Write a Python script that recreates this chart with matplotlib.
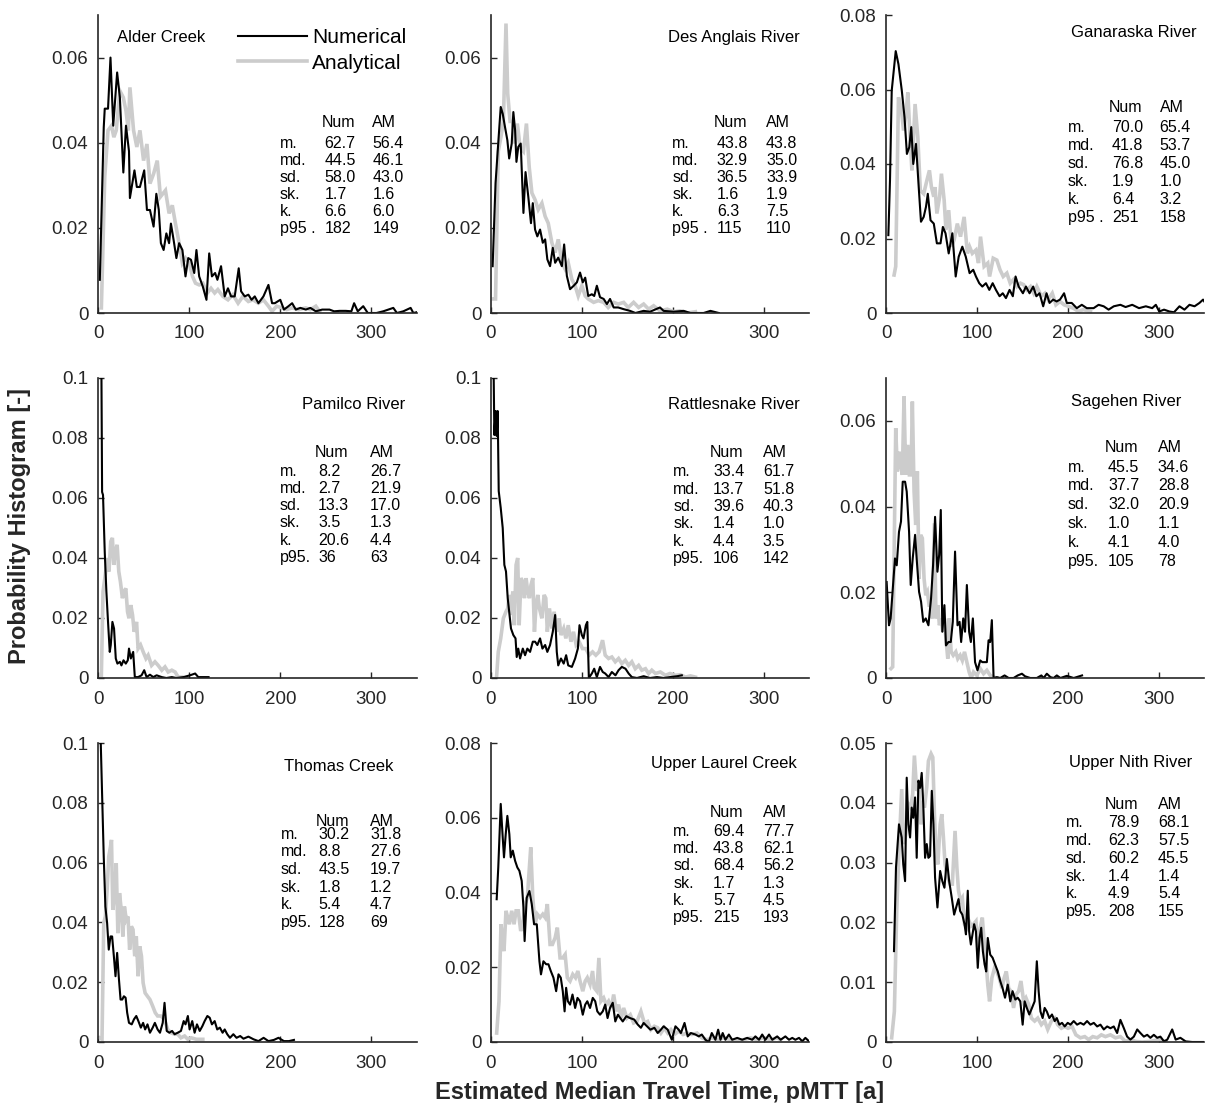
import matplotlib
matplotlib.use("Agg")
import matplotlib.pyplot as plt
from matplotlib.ticker import FuncFormatter
from matplotlib.lines import Line2D

plt.rcParams['font.family'] = ['Liberation Sans', 'DejaVu Sans']

# ---------------- data ----------------
names = ["Alder Creek", "Des Anglais River", "Ganaraska River",
         "Pamilco River", "Rattlesnake River", "Sagehen River",
         "Thomas Creek", "Upper Laurel Creek", "Upper Nith River"]

stat_labels = ["m.", "md.", "sd.", "sk.", "k."]
p95_labels = ["p95 .", "p95 .", "p95 .", "p95.", "p95.", "p95.", "p95.", "p95.", "p95."]
num_stats = [["62.7", "44.5", "58.0", "1.7", "6.6", "182"],
             ["43.8", "32.9", "36.5", "1.6", "6.3", "115"],
             ["70.0", "41.8", "76.8", "1.9", "6.4", "251"],
             ["8.2", "2.7", "13.3", "3.5", "20.6", "36"],
             ["33.4", "13.7", "39.6", "1.4", "4.4", "106"],
             ["45.5", "37.7", "32.0", "1.0", "4.1", "105"],
             ["30.2", "8.8", "43.5", "1.8", "5.4", "128"],
             ["69.4", "43.8", "68.4", "1.7", "5.7", "215"],
             ["78.9", "62.3", "60.2", "1.4", "4.9", "208"]]
am_stats = [["56.4", "46.1", "43.0", "1.6", "6.0", "149"],
            ["43.8", "35.0", "33.9", "1.9", "7.5", "110"],
            ["65.4", "53.7", "45.0", "1.0", "3.2", "158"],
            ["26.7", "21.9", "17.0", "1.3", "4.4", "63"],
            ["61.7", "51.8", "40.3", "1.0", "3.5", "142"],
            ["34.6", "28.8", "20.9", "1.1", "4.0", "78"],
            ["31.8", "27.6", "19.7", "1.2", "4.7", "69"],
            ["77.7", "62.1", "56.2", "1.3", "4.5", "193"],
            ["68.1", "57.5", "45.5", "1.4", "5.4", "155"]]

y_max = [0.07, 0.07, 0.08, 0.1, 0.1, 0.07, 0.1, 0.08, 0.05]
y_ticks = [[0, 0.02, 0.04, 0.06], [0, 0.02, 0.04, 0.06], [0, 0.02, 0.04, 0.06, 0.08],
           [0, 0.02, 0.04, 0.06, 0.08, 0.1], [0, 0.02, 0.04, 0.06, 0.08, 0.1],
           [0, 0.02, 0.04, 0.06], [0, 0.02, 0.04, 0.06, 0.08, 0.1],
           [0, 0.02, 0.04, 0.06, 0.08], [0, 0.01, 0.02, 0.03, 0.04, 0.05]]
x_ticks = [0, 100, 200, 300]

# Alder Creek
alder_num_x = [2, 6.3, 7.4, 11, 13.7, 16.7, 21, 24, 27.8, 30.7, 34, 35, 40, 42.6, 46, 50.7, 53.7, 57, 61, 64, 66.7, 69, 72, 75, 78, 80, 83, 86, 89, 92.6, 96, 99, 102, 105.6, 108, 111, 115, 119, 122, 125, 128.5, 131, 135, 139, 142.6, 146, 150, 154.4, 157, 161, 165, 168.5, 172, 176, 181.5, 187, 191, 194, 200, 204, 209, 213, 217, 222, 228, 233, 239, 246, 254, 259, 265, 272, 278, 281, 285, 291, 296, 305.5, 313, 324, 328, 335, 343, 346, 354]
alder_num_y = [0.0078, 0.0436, 0.048, 0.048, 0.06, 0.044, 0.0565, 0.0506, 0.033, 0.044, 0.038, 0.027, 0.0335, 0.0296, 0.0296, 0.0335, 0.0242, 0.0242, 0.0203, 0.028, 0.0242, 0.0164, 0.0148, 0.0187, 0.0164, 0.021, 0.0171, 0.0129, 0.0164, 0.0148, 0.0086, 0.0129, 0.0125, 0.0094, 0.0148, 0.0086, 0.0062, 0.0031, 0.014, 0.0086, 0.0094, 0.0078, 0.011, 0.0039, 0.0058, 0.0039, 0.0039, 0.0105, 0.0051, 0.0039, 0.0043, 0.0031, 0.0039, 0.0023, 0.0039, 0.0066, 0.0023, 0.0023, 0.0031, 0.0008, 0.0016, 0.0023, 0.0008, 0.0012, 0.0008, 0.0012, 0.0004, 0.0008, 0.0008, 0.0004, 0.0005, 0.0005, 0.0004, 0.0023, 0.0004, 0.0016, 0.0, 0.0, 0.0004, 0.0012, 0.0, 0.0004, 0.0012, 0.0, 0.0004]
alder_am_x = [3.7, 7.4, 11, 14.8, 17.4, 20, 24, 27.8, 30.7, 33.3, 35, 39, 42.6, 46, 50, 53.7, 57, 61, 65, 68.5, 74, 78, 81.5, 85, 89, 92.6, 96, 100, 103.7, 107, 111, 115, 120, 124, 128, 131.5, 137, 142.6, 148, 153.7, 159, 165, 170, 176, 181.5, 187, 191, 196, 202, 207, 213, 220, 228, 233, 239, 243]
alder_am_y = [0.0012, 0.032, 0.0429, 0.044, 0.0413, 0.0429, 0.0522, 0.0506, 0.0475, 0.0429, 0.053, 0.0429, 0.039, 0.0429, 0.0358, 0.0397, 0.0304, 0.0327, 0.0358, 0.0273, 0.0288, 0.0234, 0.0253, 0.021, 0.0164, 0.0117, 0.0129, 0.0117, 0.0086, 0.007, 0.0066, 0.007, 0.0047, 0.0058, 0.0047, 0.0055, 0.0039, 0.0031, 0.0043, 0.0023, 0.0039, 0.0027, 0.0031, 0.0023, 0.0031, 0.0016, 0.0004, 0.0016, 0.0012, 0.0008, 0.0012, 0.0008, 0.0012, 0.0008, 0.0016, 0.0004]

# Des Anglais River
anglais_num_x = [1.8, 5, 8, 10.7, 12.9, 15.4, 18, 20, 22.8, 24.6, 26.5, 28, 30, 32.7, 35.7, 38, 41, 44, 46, 48.5, 51, 54, 57, 59.6, 62, 65, 68, 70.6, 74, 78, 80.5, 83.5, 87, 91, 94.5, 98, 101, 103.7, 107, 111, 113.6, 116.5, 120, 124, 127.6, 131, 135, 140, 146, 153, 159, 168, 175, 186, 190, 201, 212, 219.5, 227, 234, 241.5, 250.7]
anglais_num_y = [0.011, 0.0305, 0.04, 0.0484, 0.0468, 0.0437, 0.0406, 0.0363, 0.0398, 0.0472, 0.043, 0.0355, 0.039, 0.0398, 0.0235, 0.0331, 0.0274, 0.0211, 0.0258, 0.0196, 0.018, 0.0196, 0.0165, 0.0173, 0.0126, 0.011, 0.0153, 0.0118, 0.013, 0.011, 0.0161, 0.0087, 0.0056, 0.0064, 0.0072, 0.0095, 0.0072, 0.0083, 0.004, 0.0044, 0.004, 0.0064, 0.0037, 0.0033, 0.0021, 0.0033, 0.0013, 0.0013, 0.0009, 0.0005, 0.0, 0.0005, 0.0003, 0.0013, 0.0005, 0.0003, 0.0005, 0.0, 0.0, 0.0, 0.0005, 0.0]
anglais_am_x = [2.6, 5, 8, 11, 13.6, 16.5, 18.4, 21, 24, 26.5, 29, 32, 35.7, 39, 42, 45, 48.5, 52, 56, 59.6, 63, 67, 70.6, 74, 78, 81.6, 85, 89, 92.6, 96, 100, 103.7, 107, 113, 118, 124, 129, 135, 140, 146, 151, 157, 162.5, 168, 173.5, 179, 186, 194, 201, 208, 216, 225]
anglais_am_y = [0.0033, 0.0033, 0.038, 0.0414, 0.045, 0.068, 0.0515, 0.045, 0.045, 0.0398, 0.0445, 0.039, 0.038, 0.0445, 0.0344, 0.0282, 0.0266, 0.0243, 0.0258, 0.0227, 0.0211, 0.0165, 0.0142, 0.0173, 0.0118, 0.0103, 0.0118, 0.0079, 0.0064, 0.004, 0.0064, 0.004, 0.0033, 0.0025, 0.0029, 0.0025, 0.0013, 0.0025, 0.0021, 0.0025, 0.0013, 0.0025, 0.0013, 0.0021, 0.0009, 0.0017, 0.0005, 0.0009, 0.0003, 0.0005, 0.0, 0.0003]

# Ganaraska River
ganaraska_num_x = [2.6, 4.4, 6.3, 10.7, 13.7, 17.4, 20.4, 23, 25.6, 27.8, 30, 33, 36, 38.5, 41.5, 44, 46, 49, 52.6, 56, 60, 62.6, 65.5, 69, 73, 76.7, 80, 84, 87.8, 92, 96, 99, 102.6, 106, 110, 113.7, 117.4, 121, 125, 128.5, 132, 136, 139.6, 142.6, 146, 150.7, 154, 158, 162, 165.5, 169, 173, 176.7, 180, 184, 187.8, 191.5, 196, 199, 204.4, 210, 215.5, 221, 228.5, 234, 239.6, 245, 250.7, 258, 263.7, 271, 278.5, 286, 293, 297, 300.7, 306, 312, 317, 323, 328.5, 334, 339.6, 345, 349, 352.6]
ganaraska_num_y = [0.0209, 0.0356, 0.0597, 0.0703, 0.0668, 0.0597, 0.0525, 0.0427, 0.0445, 0.0499, 0.04, 0.0454, 0.0338, 0.0245, 0.0258, 0.0285, 0.032, 0.0249, 0.024, 0.0187, 0.0187, 0.0231, 0.0214, 0.016, 0.0214, 0.0098, 0.0151, 0.0178, 0.0151, 0.0107, 0.0116, 0.0098, 0.008, 0.0071, 0.008, 0.0062, 0.008, 0.0062, 0.0045, 0.0053, 0.004, 0.0062, 0.0045, 0.0098, 0.0071, 0.0053, 0.0071, 0.0053, 0.0071, 0.0045, 0.0053, 0.0018, 0.0053, 0.0027, 0.0036, 0.0031, 0.0036, 0.0053, 0.0027, 0.0027, 0.0013, 0.0022, 0.0013, 0.0013, 0.0022, 0.0018, 0.0009, 0.0018, 0.0022, 0.0016, 0.0022, 0.0013, 0.0018, 0.0013, 0.0022, 0.0004, 0.0009, 0.0004, 0.0002, 0.0018, 0.0009, 0.0022, 0.0018, 0.0027, 0.0036, 0.0022]
ganaraska_am_x = [8.9, 10.7, 13.7, 16.7, 19.3, 22, 24, 26.7, 28.5, 30, 32, 35, 37.8, 41.5, 45, 47.8, 50, 52.6, 54, 56, 59, 61, 64, 66, 69, 72, 75, 78.5, 82, 86, 89.6, 92, 95, 99, 101.8, 104, 108, 112, 114, 118, 122, 125.5, 129, 133, 136.7, 140, 144, 148, 151.5, 155, 159, 162.6, 166, 171, 175, 178.5, 183, 187, 191.5, 196, 200.7, 206, 212, 217, 225]
ganaraska_am_y = [0.0102, 0.0125, 0.0579, 0.0552, 0.049, 0.0534, 0.0592, 0.0463, 0.0383, 0.0454, 0.0561, 0.0472, 0.0329, 0.032, 0.0356, 0.0383, 0.0338, 0.0312, 0.0338, 0.0267, 0.0312, 0.0374, 0.0303, 0.0223, 0.0276, 0.0178, 0.0196, 0.024, 0.0205, 0.0258, 0.016, 0.0178, 0.016, 0.0169, 0.0134, 0.0205, 0.0125, 0.0134, 0.0098, 0.0147, 0.0142, 0.0116, 0.0098, 0.0107, 0.008, 0.0089, 0.0071, 0.008, 0.0076, 0.0062, 0.0071, 0.0053, 0.0071, 0.0045, 0.0053, 0.0036, 0.0053, 0.0022, 0.0031, 0.0022, 0.0018, 0.0013, 0.0004, 0.0009, 0.0004]

# Pamilco River
pamilco_num_x = [1.2, 3.7, 4.5, 5.5, 7.4, 9.2, 11, 12.9, 14, 15.8, 17.6, 19.5, 21.3, 24, 25.7, 28, 30.5, 32.7, 34, 36, 38.6, 40.4, 44, 47.8, 50.7, 53.3, 57, 60.7, 64.3, 70, 75, 81, 86, 93.7, 101, 106.6, 110, 115.8, 121.3]
pamilco_num_y = [0.12, 0.105, 0.062, 0.061, 0.042, 0.0288, 0.0187, 0.0087, 0.011, 0.0187, 0.0165, 0.0065, 0.0048, 0.0054, 0.0042, 0.0059, 0.0048, 0.0059, 0.0098, 0.0065, 0.0087, 0.0003, 0.0003, 0.0009, 0.0026, 0.0003, 0.0011, 0.0003, 0.0009, 0.0003, 0.0, 0.0003, 0.0, 0.0003, 0.0009, 0.0015, 0.0003, 0.0003, 0.0003]
pamilco_am_x = [3.7, 5.5, 8, 10.3, 12, 14, 15.8, 17.3, 19, 21, 22.8, 24.6, 26.8, 28.7, 30.5, 32.4, 34, 36, 37.9, 39.7, 42.3, 44, 46.7, 49.6, 52.6, 55, 58.8, 62.5, 66, 70, 73.5, 77, 81, 84.6, 88, 92]
pamilco_am_y = [0.0009, 0.0288, 0.0344, 0.04, 0.0355, 0.0455, 0.0467, 0.0377, 0.0422, 0.0444, 0.0355, 0.0321, 0.0266, 0.0288, 0.0299, 0.0221, 0.0199, 0.0243, 0.021, 0.0154, 0.0187, 0.0098, 0.011, 0.0087, 0.0065, 0.0076, 0.0042, 0.0054, 0.0042, 0.0026, 0.0037, 0.002, 0.0026, 0.002, 0.0003, 0.0003]

# Rattlesnake River
rattle_num_x = [1.1, 2.6, 3.7, 5.1, 6.25, 7.35, 8.5, 10.7, 12.9, 14.7, 16.5, 18.4, 20, 22, 24.6, 27, 28.3, 30, 32, 35, 37.5, 40, 43, 46, 48.5, 51, 54, 56.6, 59.6, 62, 65, 68, 70.6, 72.4, 74, 77, 80, 82.7, 85, 89, 92.6, 95.6, 97.4, 100, 101.8, 104.4, 106, 107.7, 111, 113.6, 116.5, 120, 123, 125.7, 129.4, 133, 137, 140.4, 144, 148, 151.5, 155, 160.7, 168, 175, 182.7, 190, 197, 205, 210]
rattle_num_y = [0.13, 0.11, 0.081, 0.089, 0.0807, 0.089, 0.0623, 0.0567, 0.05, 0.0377, 0.0355, 0.0266, 0.0221, 0.0165, 0.0143, 0.0132, 0.007, 0.0098, 0.0065, 0.0098, 0.0076, 0.0098, 0.0087, 0.0121, 0.0121, 0.011, 0.0132, 0.0098, 0.011, 0.0087, 0.011, 0.0154, 0.021, 0.0087, 0.0042, 0.0065, 0.0048, 0.0076, 0.0042, 0.0037, 0.0065, 0.0098, 0.0176, 0.0143, 0.0132, 0.0176, 0.0187, 0.0, 0.0015, 0.0031, 0.0003, 0.0037, 0.002, 0.0015, 0.0003, 0.002, 0.0009, 0.0026, 0.0037, 0.0031, 0.0015, 0.0003, 0.0, 0.0006, 0.0, 0.0003, 0.0, 0.0003, 0.0006, 0.0009]
rattle_am_x = [6.25, 8, 10.7, 13.6, 16.5, 18.4, 20, 22, 24, 25.7, 27.6, 29.4, 31, 33, 35, 36.8, 38.6, 40.4, 42.3, 44, 46, 47.8, 49.6, 51.5, 53.3, 56, 58.5, 60.3, 62, 64.3, 67, 69.5, 72.4, 75, 77, 80, 82.4, 85, 88, 90.8, 93.75, 97, 100.7, 104.4, 108, 111.8, 115.4, 119, 122.8, 125.7, 129.4, 133, 136.8, 140.4, 144, 147.8, 151.5, 155, 158.8, 162.5, 166, 170, 173.5, 177, 181, 186.4, 192, 197, 203, 208.5, 214, 219.5, 225]
rattle_am_y = [0.0009, 0.0087, 0.0132, 0.0199, 0.0221, 0.0232, 0.0277, 0.021, 0.0288, 0.0176, 0.0377, 0.04, 0.0176, 0.0333, 0.0321, 0.0266, 0.0333, 0.0288, 0.0266, 0.031, 0.0333, 0.0154, 0.0243, 0.0277, 0.0232, 0.0199, 0.0277, 0.0266, 0.0154, 0.0232, 0.0165, 0.0221, 0.0154, 0.0199, 0.0143, 0.0165, 0.0132, 0.0176, 0.0121, 0.0154, 0.011, 0.0121, 0.0098, 0.0098, 0.0076, 0.0087, 0.0076, 0.0087, 0.0126, 0.0076, 0.0065, 0.007, 0.0054, 0.0065, 0.0048, 0.0059, 0.0042, 0.0054, 0.0031, 0.0042, 0.0026, 0.0031, 0.0015, 0.0026, 0.0015, 0.002, 0.0009, 0.0015, 0.0009, 0.0011, 0.0003, 0.0007, 0.0003]

# Sagehen River
sagehen_num_x = [0.7, 3.3, 5.1, 8, 9.9, 11.8, 14.3, 16.5, 18.4, 21, 22.8, 25.4, 27.2, 29.4, 32, 34, 36.4, 38.6, 41, 43.75, 46.7, 49.6, 51.8, 54, 56.6, 58.5, 60.3, 62, 64.3, 66, 68.75, 71.3, 73.5, 76, 78.7, 81, 82.7, 85, 87, 89, 91.5, 93.4, 95.6, 98, 100.7, 103.7, 106, 108.5, 111, 112.9, 114.7, 116.5, 118.4, 122, 125.7, 130.5, 135, 140.4, 145, 149.6, 153, 158.8, 166, 171, 173.5, 177, 181, 184.5, 188, 192, 199, 206.6, 215.8]
sagehen_num_y = [0.0224, 0.0123, 0.0139, 0.0224, 0.0279, 0.0263, 0.0341, 0.0365, 0.0458, 0.0458, 0.0435, 0.0341, 0.0217, 0.0279, 0.0334, 0.0271, 0.0201, 0.0178, 0.0131, 0.0139, 0.0123, 0.0186, 0.0263, 0.0376, 0.0248, 0.0287, 0.0392, 0.0108, 0.017, 0.0076, 0.0084, 0.0084, 0.0131, 0.0295, 0.0123, 0.0131, 0.0084, 0.0139, 0.0108, 0.0217, 0.0108, 0.0084, 0.0139, 0.0037, 0.0018, 0.0041, 0.0037, 0.0037, 0.0037, 0.0088, 0.0084, 0.0135, 0.0, 0.0002, 0.0, 0.0006, 0.0, 0.0, 0.0006, 0.001, 0.0004, 0.0, 0.0, 0.0006, 0.0, 0.001, 0.0002, 0.0, 0.0006, 0.0, 0.0005, 0.0, 0.0006]
sagehen_am_x = [5.5, 7.35, 8.8, 10.7, 12.5, 14.3, 16.2, 18, 19.85, 21.7, 24, 25.7, 27.6, 29, 30.9, 32.7, 34.5, 36.4, 38.2, 40, 41.9, 43.75, 45.6, 47.4, 49.6, 51, 53.3, 55, 57, 58.8, 60.7, 62.5, 64.3, 66, 68, 69.5, 71.7, 74, 76.8, 79, 81.6, 84, 86.4, 89, 91.5, 93.75, 96.3, 100, 103.7, 107.4, 111, 114.7, 118.4, 122]
sagehen_am_y = [0.0022, 0.0026, 0.0263, 0.0583, 0.0482, 0.0528, 0.0497, 0.0474, 0.0657, 0.0474, 0.0544, 0.0474, 0.0474, 0.0645, 0.0435, 0.0357, 0.0482, 0.0232, 0.0334, 0.0326, 0.0232, 0.0193, 0.0201, 0.017, 0.017, 0.0139, 0.0361, 0.0139, 0.017, 0.0123, 0.0139, 0.0108, 0.0139, 0.0092, 0.0045, 0.0139, 0.0061, 0.0053, 0.0061, 0.0045, 0.0053, 0.0041, 0.0061, 0.0037, 0.0014, 0.0, 0.0014, 0.0006, 0.0022, 0.001, 0.0018, 0.0006, 0.0002, 0.0]

# Thomas Creek
thomas_num_x = [2.6, 4.4, 6.3, 8.1, 10, 11.8, 13.7, 15.5, 17.4, 19.2, 21, 23, 24.75, 26.6, 28.4, 30.3, 32, 34, 37, 39.5, 42, 44.3, 47, 49.5, 51.7, 54.3, 57, 60, 62.4, 65.4, 68, 71, 73, 75.4, 78.3, 81.3, 84, 87.5, 91, 94, 96, 98.6, 100.5, 103.4, 106, 108.6, 111.6, 114.5, 117, 120, 122.6, 125, 128, 130.8, 133.7, 136.7, 139, 141.8, 144.8, 148.5, 152, 156, 159.6, 165, 170.7, 176, 181.7, 187, 193, 198, 204, 209.5, 215]
thomas_num_y = [0.105, 0.084, 0.062, 0.0453, 0.0398, 0.0309, 0.0353, 0.0353, 0.0287, 0.022, 0.0298, 0.0209, 0.0142, 0.0142, 0.0153, 0.0148, 0.0098, 0.0064, 0.0059, 0.0076, 0.0087, 0.007, 0.0048, 0.0064, 0.0042, 0.0059, 0.0031, 0.0048, 0.0064, 0.0042, 0.0031, 0.0064, 0.0131, 0.0037, 0.0031, 0.0037, 0.0026, 0.0031, 0.0037, 0.007, 0.0059, 0.0087, 0.0042, 0.007, 0.0031, 0.0059, 0.0037, 0.0053, 0.007, 0.0087, 0.0081, 0.0059, 0.007, 0.0042, 0.0048, 0.0031, 0.0042, 0.0026, 0.0014, 0.0026, 0.0014, 0.002, 0.0011, 0.0018, 0.0009, 0.0003, 0.0014, 0.0003, 0.0007, 0.0014, 0.0003, 0.0003, 0.0007]
thomas_am_x = [1.8, 4.4, 6.3, 8.1, 10, 11.8, 13.7, 14.8, 16.25, 18, 20, 21.8, 23.6, 25.5, 27.3, 29, 31, 32.9, 34.7, 36.6, 38.4, 40.3, 42, 44, 45.8, 47.7, 49.5, 51.7, 54.3, 57, 60, 62.8, 65.4, 69, 72.8, 76.5, 80, 84, 87.5, 91, 95, 98.6, 102.3, 108, 115]
thomas_am_y = [0.0014, 0.0009, 0.0398, 0.042, 0.0509, 0.062, 0.0653, 0.0676, 0.0442, 0.0487, 0.0598, 0.0364, 0.0498, 0.0442, 0.0353, 0.0453, 0.0409, 0.042, 0.0309, 0.0387, 0.0376, 0.0287, 0.0353, 0.022, 0.032, 0.0287, 0.0198, 0.0164, 0.0153, 0.0142, 0.012, 0.0098, 0.0087, 0.0087, 0.0076, 0.0042, 0.0031, 0.0026, 0.0026, 0.0014, 0.002, 0.0009, 0.0014, 0.0009, 0.0009]

# Upper Laurel Creek
laurel_num_x = [6.25, 8, 10.7, 12.9, 14.3, 16.2, 18, 20.2, 21.7, 24, 26.5, 29, 31.25, 33.8, 35.7, 37, 39.3, 42.3, 44.85, 47.4, 50.4, 53.3, 55, 57.7, 60.7, 63.2, 65.8, 68.75, 71.7, 74.3, 76.8, 79, 81, 82.7, 84.6, 87, 89.7, 92.6, 95.2, 98, 101, 103.7, 106, 109, 112, 114.7, 117, 120, 123, 125.7, 128.3, 131, 134, 136.8, 139.7, 142.3, 145, 149, 153, 157.7, 161.4, 165, 168, 171.7, 175.4, 179.8, 183.5, 187, 190, 194.5, 199, 203, 206.6, 209, 213, 216.5, 220, 225, 228.7, 232, 236, 239.7, 243, 247, 250, 252.6, 255, 258, 261.8, 265.4, 271, 276.5, 282, 287.5, 291, 295, 298.5, 302, 306, 309.6, 315, 318.8, 324, 328, 331.6, 335, 339, 342.6, 346, 350]
laurel_num_y = [0.0382, 0.0467, 0.0637, 0.0547, 0.0494, 0.0556, 0.0605, 0.0556, 0.0494, 0.0512, 0.0485, 0.0467, 0.0458, 0.0431, 0.036, 0.027, 0.0386, 0.0404, 0.0369, 0.0315, 0.0315, 0.0216, 0.0181, 0.0216, 0.0208, 0.0208, 0.019, 0.0172, 0.0136, 0.0181, 0.0172, 0.0136, 0.0082, 0.0145, 0.0109, 0.01, 0.0127, 0.0091, 0.0118, 0.0109, 0.0073, 0.01, 0.0109, 0.0091, 0.0118, 0.0109, 0.0082, 0.0073, 0.0082, 0.01, 0.0064, 0.0091, 0.0105, 0.0055, 0.0073, 0.0064, 0.0055, 0.0069, 0.0064, 0.006, 0.0047, 0.0038, 0.0051, 0.0042, 0.0033, 0.0038, 0.0024, 0.0033, 0.0042, 0.0033, 0.0006, 0.0042, 0.0033, 0.0024, 0.0051, 0.0015, 0.0024, 0.002, 0.0015, 0.002, 0.0006, 0.0, 0.0024, 0.0006, 0.0033, 0.0006, 0.0024, 0.0006, 0.002, 0.0006, 0.0011, 0.0006, 0.0011, 0.0006, 0.0015, 0.0006, 0.002, 0.0006, 0.002, 0.0006, 0.0015, 0.0006, 0.0015, 0.0006, 0.0011, 0.0006, 0.0011, 0.0002, 0.0011, 0.0002]
laurel_am_x = [6.25, 8.8, 11, 12.9, 14.3, 16.5, 18.4, 20.2, 22.8, 25.4, 27.6, 30, 32.7, 35, 37.5, 40, 41.5, 43.75, 46, 48.5, 51, 54, 57, 59.6, 62, 65, 67.6, 70.6, 73, 76, 79, 81.6, 84, 87, 90, 93, 95.6, 98, 101, 103.7, 106, 109, 111.8, 113.6, 116.5, 118.75, 121, 124, 126.8, 129.4, 132.4, 135, 137.9, 140.4, 143.4, 146, 149.6, 153.3, 157, 160.7, 165, 168.75, 172.4, 176, 179.8, 183.5, 187, 190.8, 194.5, 198, 201.8, 206.6, 211.4, 215.8, 221, 226.8, 232, 238, 243, 249, 256, 263.6, 271, 278, 285.7, 293, 300, 307.7, 315, 318.8]
laurel_am_y = [0.0024, 0.0109, 0.0315, 0.027, 0.0243, 0.0351, 0.0333, 0.0315, 0.0351, 0.0315, 0.0351, 0.0351, 0.0297, 0.0315, 0.0369, 0.0386, 0.044, 0.0521, 0.0386, 0.0315, 0.0342, 0.0333, 0.0342, 0.0333, 0.0369, 0.0261, 0.0261, 0.0279, 0.0306, 0.0225, 0.0225, 0.0234, 0.0172, 0.0163, 0.0181, 0.0172, 0.019, 0.0163, 0.0136, 0.0163, 0.0172, 0.0154, 0.019, 0.0145, 0.0136, 0.0225, 0.0109, 0.0118, 0.01, 0.0109, 0.0091, 0.0127, 0.0082, 0.01, 0.0064, 0.0091, 0.0064, 0.0073, 0.0051, 0.0055, 0.0082, 0.0051, 0.0055, 0.0033, 0.0042, 0.0038, 0.0024, 0.0038, 0.0024, 0.0033, 0.002, 0.0029, 0.002, 0.0024, 0.002, 0.0024, 0.0011, 0.0006, 0.0011, 0.0006, 0.0011, 0.0006, 0.0004, 0.0006, 0.0011, 0.0006, 0.0011, 0.0006, 0.0011, 0.0006]

# Upper Nith River
nith_num_x = [8.8, 11, 14.3, 17.3, 19, 21, 22.8, 24.6, 26.5, 28.3, 30, 32, 33.8, 35.7, 37.5, 39.3, 41, 43, 44.85, 46.7, 48.5, 50.4, 52.2, 54, 56.6, 59.6, 62, 64.3, 67, 69.5, 72.4, 75, 77.2, 79.8, 81.6, 84, 86.4, 88, 90, 91.5, 93.4, 95.2, 97, 99, 101, 103, 104.8, 106.6, 108.5, 110.3, 112, 114.7, 117.3, 120, 123, 125.7, 128.3, 131, 134, 136.8, 139.3, 142.3, 145, 147.8, 150.4, 152.6, 155, 157.7, 160.7, 163.6, 166, 168, 170, 172.4, 174.6, 177, 179.8, 182.7, 185.7, 188, 190.8, 193.75, 196.7, 200, 203, 206.6, 210.3, 214, 217.6, 221.3, 225, 228.7, 232.4, 236, 239.7, 243.4, 247, 250.7, 254.4, 258, 261.8, 265.4, 269, 272.8, 276.5, 280, 283.8, 287.5, 291, 294.8, 298.5, 302, 306, 309.6, 315, 318.8, 324, 329.8, 337, 350]
nith_num_y = [0.0152, 0.0292, 0.0364, 0.0342, 0.0297, 0.0269, 0.0442, 0.0364, 0.0342, 0.0392, 0.0375, 0.0409, 0.0308, 0.0437, 0.0425, 0.045, 0.0398, 0.0308, 0.0331, 0.0308, 0.0311, 0.042, 0.0364, 0.0275, 0.0225, 0.0286, 0.0269, 0.0258, 0.0306, 0.0269, 0.0241, 0.0213, 0.0225, 0.0239, 0.0219, 0.0213, 0.0197, 0.018, 0.0253, 0.0185, 0.0163, 0.018, 0.0197, 0.0185, 0.0124, 0.0174, 0.0191, 0.0152, 0.013, 0.0118, 0.0174, 0.0146, 0.0141, 0.013, 0.0118, 0.0102, 0.009, 0.0074, 0.0096, 0.0068, 0.0085, 0.0071, 0.0074, 0.0068, 0.0029, 0.0068, 0.0057, 0.0046, 0.0057, 0.0068, 0.0135, 0.0085, 0.0051, 0.004, 0.0057, 0.0051, 0.004, 0.0046, 0.0035, 0.004, 0.0029, 0.0032, 0.0026, 0.0032, 0.0029, 0.0035, 0.0029, 0.0032, 0.0029, 0.0035, 0.0029, 0.0032, 0.0026, 0.0029, 0.0021, 0.0026, 0.0023, 0.0026, 0.0015, 0.0037, 0.0023, 0.0009, 0.0004, 0.0009, 0.0021, 0.0015, 0.0009, 0.0012, 0.0007, 0.0012, 0.0007, 0.0009, 0.0001, 0.0004, 0.0021, 0.0004, 0.0007, 0.0001, 0.0, 0.0]
nith_am_x = [6.25, 9.2, 11.8, 14.3, 17.3, 19.5, 21.7, 24.6, 27.2, 29.4, 31.25, 33.8, 36.4, 38.6, 40.4, 42.3, 44.85, 46.7, 49.6, 51.5, 53.3, 55, 57, 59.6, 61.4, 63.2, 65, 68, 70.6, 73, 76, 78, 79.8, 82, 84, 86.4, 89, 91.5, 93.75, 96.3, 99, 101, 103.7, 106, 108.5, 110.3, 112, 114, 116.5, 119.5, 122, 124.6, 127.6, 130, 132.4, 135, 137.5, 140.4, 143, 146, 148.5, 151.5, 154, 157, 160, 163.6, 167, 171, 174.6, 178, 182, 185.7, 189, 193, 196.7, 200.4, 204.8, 209, 214, 218.75, 223, 227.6, 232.4, 237, 241.5, 247, 252.6, 258, 263.6, 269, 274.6, 282, 291, 300, 307.7]
nith_am_y = [0.0007, 0.0051, 0.0219, 0.032, 0.0423, 0.0331, 0.0347, 0.0398, 0.0392, 0.0415, 0.0479, 0.042, 0.0428, 0.0364, 0.0403, 0.0392, 0.0426, 0.047, 0.0482, 0.0476, 0.0381, 0.032, 0.0297, 0.0364, 0.0381, 0.0342, 0.0297, 0.0275, 0.0264, 0.0264, 0.0353, 0.0292, 0.0253, 0.0236, 0.0241, 0.0197, 0.0191, 0.0202, 0.0194, 0.0197, 0.0202, 0.0152, 0.0191, 0.0208, 0.0158, 0.013, 0.0096, 0.0068, 0.0107, 0.0124, 0.0118, 0.0107, 0.009, 0.0107, 0.0118, 0.009, 0.0085, 0.0057, 0.0079, 0.0085, 0.0102, 0.0068, 0.0074, 0.0063, 0.004, 0.0035, 0.004, 0.0029, 0.0035, 0.0021, 0.0035, 0.004, 0.0029, 0.0023, 0.0026, 0.0023, 0.0026, 0.0012, 0.0007, 0.0009, 0.0004, 0.0009, 0.0007, 0.0012, 0.0009, 0.0012, 0.0007, 0.0009, 0.0001, 0.0004, 0.0001, 0.0, 0.0001, 0.0004, 0.0001]

num_series = [(alder_num_x, alder_num_y), (anglais_num_x, anglais_num_y), (ganaraska_num_x, ganaraska_num_y),
              (pamilco_num_x, pamilco_num_y), (rattle_num_x, rattle_num_y), (sagehen_num_x, sagehen_num_y),
              (thomas_num_x, thomas_num_y), (laurel_num_x, laurel_num_y), (nith_num_x, nith_num_y)]
am_series = [(alder_am_x, alder_am_y), (anglais_am_x, anglais_am_y), (ganaraska_am_x, ganaraska_am_y),
             (pamilco_am_x, pamilco_am_y), (rattle_am_x, rattle_am_y), (sagehen_am_x, sagehen_am_y),
             (thomas_am_x, thomas_am_y), (laurel_am_x, laurel_am_y), (nith_am_x, nith_am_y)]

# ---------------- layout ----------------
W, H = 1209, 1103
col_left = [98, 491, 886]
col_w = [319, 318, 318]
row_top = [15, 378, 743]
row_bot = [313, 678, 1042]

# title (x, y, ha), stats block (label x, num x, am x, header y, first row y, row step)
title_pos = [(0.06, 0.926, 'left'), (0.972, 0.926, 'right'), (0.978, 0.94, 'right'),
             (0.962, 0.91, 'right'), (0.97, 0.913, 'right'), (0.93, 0.92, 'right'),
             (0.925, 0.92, 'right'), (0.962, 0.93, 'right'), (0.962, 0.936, 'right')]
stat_pos = [(0.57, 0.71, 0.86, 0.638, 0.570, 0.057),
            (0.57, 0.71, 0.865, 0.638, 0.570, 0.057),
            (0.572, 0.71, 0.86, 0.688, 0.624, 0.0604),
            (0.57, 0.69, 0.853, 0.753, 0.690, 0.0577),
            (0.573, 0.698, 0.855, 0.753, 0.687, 0.0577),
            (0.572, 0.698, 0.855, 0.767, 0.703, 0.063),
            (0.573, 0.692, 0.853, 0.738, 0.695, 0.059),
            (0.573, 0.698, 0.855, 0.768, 0.705, 0.058),
            (0.566, 0.698, 0.855, 0.795, 0.735, 0.060)]

GRAY = '#cccccc'
TXT = '#262626'
FS_STAT = 11.5

fig = plt.figure(figsize=(W / 100, H / 100), dpi=100)

fmt = FuncFormatter(lambda v, p: '%g' % round(v, 6))

for i in range(9):
    r, c = divmod(i, 3)
    ax = fig.add_axes([col_left[c] / W, 1 - row_bot[r] / H, col_w[c] / W, (row_bot[r] - row_top[r]) / H])
    ax.plot(am_series[i][0], am_series[i][1], color=GRAY, lw=2.6, solid_joinstyle='miter')
    ax.plot(num_series[i][0], num_series[i][1], color='black', lw=1.5)
    ax.set_xlim(0, 350)
    ax.set_ylim(0, y_max[i])
    ax.set_xticks(x_ticks)
    ax.set_yticks(y_ticks[i])
    ax.yaxis.set_major_formatter(fmt)
    for s in ['top', 'right']:
        ax.spines[s].set_visible(False)
    for s in ['left', 'bottom']:
        ax.spines[s].set_color(TXT)
        ax.spines[s].set_linewidth(1.2)
    ax.tick_params(direction='in', length=4, width=1.0, colors=TXT, labelsize=13.5)
    ax.tick_params(axis='x', pad=9)
    ax.tick_params(axis='y', pad=7)

    tx, ty, tha = title_pos[i]
    ax.text(tx, ty, names[i], transform=ax.transAxes, ha=tha, va='center', fontsize=12, color='black')

    lx, nx, amx, hy, y0, dy = stat_pos[i]
    ax.text(nx - 0.01, hy, "Num", transform=ax.transAxes, ha='left', va='center', fontsize=FS_STAT)
    ax.text(amx, hy, "AM", transform=ax.transAxes, ha='left', va='center', fontsize=FS_STAT)
    labels = stat_labels + [p95_labels[i]]
    for k in range(6):
        yy = y0 - k * dy
        ax.text(lx, yy, labels[k], transform=ax.transAxes, ha='left', va='center', fontsize=FS_STAT)
        ax.text(nx, yy, num_stats[i][k], transform=ax.transAxes, ha='left', va='center', fontsize=FS_STAT)
        ax.text(amx, yy, am_stats[i][k], transform=ax.transAxes, ha='left', va='center', fontsize=FS_STAT)

    if i == 0:
        handles = [Line2D([], [], color='black', lw=1.5), Line2D([], [], color=GRAY, lw=2.6)]
        ax.legend(handles, ["Numerical", "Analytical"], loc='upper left', bbox_to_anchor=(0.44, 0.955),
                  frameon=False, fontsize=15, handlelength=3.3, handletextpad=0.25,
                  borderpad=0, borderaxespad=0, labelspacing=0.3)

fig.text(20 / W, 1 - 526 / H, "Probability Histogram [-]", rotation=90, ha='center', va='center',
         fontsize=17, fontweight='bold', color=TXT)
fig.text(660 / W, 1 - 1092 / H, "Estimated Median Travel Time, pMTT [a]", ha='center', va='center',
         fontsize=17, fontweight='bold', color=TXT)

fig.savefig("out.png", dpi=100)
